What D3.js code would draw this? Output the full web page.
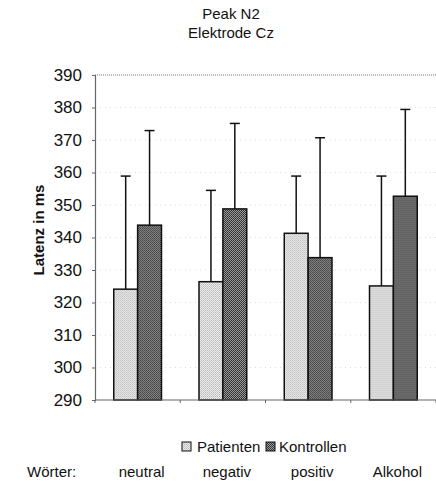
<!DOCTYPE html>
<html>
<head>
<meta charset="utf-8">
<script src="https://cdn.jsdelivr.net/npm/d3@7"></script>
<style>
  html, body { margin: 0; padding: 0; background: #fff; }
  svg { display: block; font-family: "Liberation Sans", Arial, sans-serif; }
</style>
</head>
<body>
<svg id="chart" width="436" height="497"></svg>
<script>
// Peak N2 latency at electrode Cz, by word category
const categories = ["neutral", "negativ", "positiv", "Alkohol"];
const seriesNames = ["Patienten", "Kontrollen"];
const patientenMean = [324.1, 326.4, 341.3, 325.1];
const patientenUpper = [358.9, 354.5, 358.9, 358.9];
const kontrollenMean = [343.8, 348.8, 333.8, 352.7];
const kontrollenUpper = [372.9, 375.1, 370.7, 379.4];
const yTicks = [290, 300, 310, 320, 330, 340, 350, 360, 370, 380, 390];
const titleLines = ["Peak N2", "Elektrode Cz"];
const yAxisTitle = "Latenz in ms";
const xAxisLead = "Wörter:";

const rows = categories.map((c, i) => ({
  category: c,
  values: [
    { series: seriesNames[0], mean: patientenMean[i], upper: patientenUpper[i] },
    { series: seriesNames[1], mean: kontrollenMean[i], upper: kontrollenUpper[i] }
  ]
}));

const svg = d3.select("#chart");
const plot = { left: 95, right: 436, top: 75, bottom: 400 };

// fill patterns: light speckle for patients, dark check for controls
const defs = svg.append("defs");
const pLight = defs.append("pattern").attr("id", "patLight")
  .attr("width", 2).attr("height", 2).attr("patternUnits", "userSpaceOnUse");
pLight.append("rect").attr("width", 2).attr("height", 2).attr("fill", "#eeeeee");
pLight.append("rect").attr("width", 1).attr("height", 1).attr("fill", "#b8b8b8");
pLight.append("rect").attr("x", 1).attr("y", 1).attr("width", 1).attr("height", 1).attr("fill", "#c8c8c8");

const pDark = defs.append("pattern").attr("id", "patDark")
  .attr("width", 2).attr("height", 2).attr("patternUnits", "userSpaceOnUse");
pDark.append("rect").attr("width", 2).attr("height", 2).attr("fill", "#9a9a9a");
pDark.append("rect").attr("width", 1).attr("height", 1).attr("fill", "#2e2e2e");
pDark.append("rect").attr("x", 1).attr("y", 1).attr("width", 1).attr("height", 1).attr("fill", "#3a3a3a");

const fills = { Patienten: "url(#patLight)", Kontrollen: "url(#patDark)" };

const y = d3.scaleLinear().domain([290, 390]).range([plot.bottom, plot.top]);
const x0 = d3.scaleBand().domain(categories).range([plot.left, plot.right]).paddingInner(0.44).paddingOuter(0.22);
const x1 = d3.scaleBand().domain(seriesNames).range([0, x0.bandwidth()]).padding(0);

// title
svg.append("g").selectAll("text").data(titleLines).join("text")
  .attr("x", 231).attr("y", (d, i) => 19 + i * 19)
  .attr("text-anchor", "middle").attr("font-size", 15).attr("fill", "#111")
  .text(d => d);

// faint dotted gridlines
svg.append("g").selectAll("line").data(yTicks.slice(1)).join("line")
  .attr("x1", plot.left).attr("x2", plot.right)
  .attr("y1", d => y(d)).attr("y2", d => y(d))
  .attr("stroke", d => d === 390 ? "#777" : "#dedede")
  .attr("stroke-width", 1)
  .attr("stroke-dasharray", d => d === 390 ? "1,1" : "1,4");

// y axis
const yAxis = svg.append("g").attr("transform", `translate(${plot.left},0)`)
  .call(d3.axisLeft(y).tickValues(yTicks).tickSize(3).tickPadding(10).tickFormat(d3.format("d")));
yAxis.select(".domain").attr("stroke", "#666").attr("stroke-width", 1.2);
yAxis.selectAll(".tick line").attr("stroke", "#666");
yAxis.selectAll("text").attr("font-size", 17).attr("fill", "#111")
  .attr("font-family", "'Liberation Sans', Arial, sans-serif");

// y axis title
svg.append("text")
  .attr("transform", `translate(44,230) rotate(-90)`)
  .attr("text-anchor", "middle").attr("font-size", 15).attr("font-weight", "bold").attr("fill", "#111")
  .text(yAxisTitle);

// bars
const groups = svg.append("g").selectAll("g").data(rows).join("g")
  .attr("transform", d => `translate(${x0(d.category)},0)`);

groups.selectAll("rect").data(d => d.values).join("rect")
  .attr("x", d => x1(d.series))
  .attr("y", d => y(d.mean))
  .attr("width", x1.bandwidth())
  .attr("height", d => y(290) - y(d.mean))
  .attr("fill", d => fills[d.series])
  .attr("stroke", "#111").attr("stroke-width", 1.5);

// error bars (upper whisker only)
const err = groups.selectAll("g.err").data(d => d.values).join("g").attr("class", "err");
err.append("line")
  .attr("x1", d => x1(d.series) + x1.bandwidth() / 2)
  .attr("x2", d => x1(d.series) + x1.bandwidth() / 2)
  .attr("y1", d => y(d.mean)).attr("y2", d => y(d.upper))
  .attr("stroke", "#111").attr("stroke-width", 1.5);
err.append("line")
  .attr("x1", d => x1(d.series) + x1.bandwidth() / 2 - 5)
  .attr("x2", d => x1(d.series) + x1.bandwidth() / 2 + 5)
  .attr("y1", d => y(d.upper)).attr("y2", d => y(d.upper))
  .attr("stroke", "#111").attr("stroke-width", 1.5);

// x axis: baseline with ticks between categories
const boundaries = d3.range(categories.length + 1).map(i => plot.left + i * (plot.right - plot.left) / categories.length);
svg.append("line")
  .attr("x1", plot.left).attr("x2", plot.right).attr("y1", plot.bottom).attr("y2", plot.bottom)
  .attr("stroke", "#666").attr("stroke-width", 1.2);
svg.append("g").selectAll("line").data(boundaries).join("line")
  .attr("x1", d => d).attr("x2", d => d)
  .attr("y1", plot.bottom).attr("y2", plot.bottom + 3)
  .attr("stroke", "#666");

// legend
const legend = svg.append("g");
const legendItems = [
  { name: seriesNames[0], sx: 182, tx: 197 },
  { name: seriesNames[1], sx: 266, tx: 279 }
];
legend.selectAll("rect").data(legendItems).join("rect")
  .attr("x", d => d.sx).attr("y", 442).attr("width", 9).attr("height", 9)
  .attr("fill", d => fills[d.name]).attr("stroke", "#111").attr("stroke-width", 1);
legend.selectAll("text").data(legendItems).join("text")
  .attr("x", d => d.tx).attr("y", 452)
  .attr("font-size", 15).attr("fill", "#111")
  .text(d => d.name);

// category labels under the chart
svg.append("text").attr("x", 27).attr("y", 477).attr("font-size", 15).attr("fill", "#111").text(xAxisLead);
svg.append("g").selectAll("text").data(categories).join("text")
  .attr("x", d => x0(d) + x0.bandwidth() / 2 + 4)
  .attr("y", 477).attr("text-anchor", "middle").attr("font-size", 15).attr("fill", "#111")
  .text(d => d);
</script>
</body>
</html>
